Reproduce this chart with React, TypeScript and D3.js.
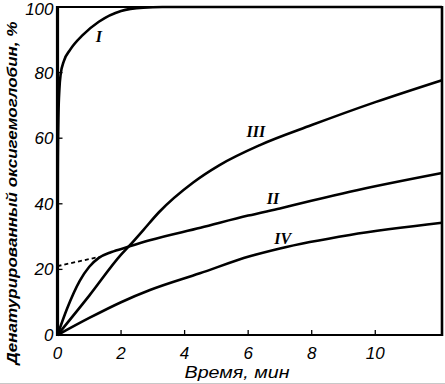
import React from "react";
import * as d3 from "d3";

const xTicks = [0, 2, 4, 6, 8, 10];
const yTicks = [0, 20, 40, 60, 80, 100];

const curveI_t = [0, 0.01, 0.03, 0.06, 0.1, 0.2, 0.4, 0.8, 1.3, 2.0, 2.7, 3.3, 12.1];
const curveI_v = [0, 50, 67, 75, 79.5, 83.5, 87, 91.5, 95.5, 98.8, 99.8, 100, 100];

const curveII_t = [0, 0.3, 0.7, 1.0, 1.3, 1.7, 2.2, 2.9, 4.5, 6.0, 7.0, 9.2, 12.1];
const curveII_v = [0, 8, 16.5, 20.8, 23.5, 25.3, 26.8, 28.9, 32.7, 36.4, 38.6, 43.7, 49.4];

const curveIII_t = [0, 1.0, 2.0, 2.28, 2.7, 3.2, 4.27, 5.1, 6.37, 8.0, 10.0, 12.1];
const curveIII_v = [0, 12, 24.5, 27.4, 32, 37.5, 46.5, 51.8, 57.9, 64, 71, 77.7];

const curveIV_t = [0, 1.0, 2.0, 2.91, 4.48, 6.05, 7.0, 9.2, 12.1];
const curveIV_v = [0, 5.2, 10, 13.7, 18.8, 24.0, 26.4, 30.5, 34.2];

const dashII_t = [0, 1.3];
const dashII_v = [21, 23.8];

const labels = ["I", "II", "III", "IV"];
const labelT = [1.3, 6.78, 6.24, 7.09];
const labelV = [89.4, 40.0, 60.4, 27.7];

const W = 445;
const H = 384;

export default function App() {
  const x = d3.scaleLinear().domain([0, 12.1]).range([57.5, 442]);
  const y = d3.scaleLinear().domain([0, 100]).range([335, 7]);
  const line = d3
    .line<[number, number]>()
    .x((d) => x(d[0]))
    .y((d) => y(d[1]))
    .curve(d3.curveMonotoneX);
  const mk = (t: number[], v: number[]) => t.map((tt, i) => [tt, v[i]] as [number, number]);
  const curves = [
    mk(curveI_t, curveI_v),
    mk(curveII_t, curveII_v),
    mk(curveIII_t, curveIII_v),
    mk(curveIV_t, curveIV_v),
  ];
  const numFont = "'Liberation Sans', 'DejaVu Sans', sans-serif";
  return (
    <svg
      width={W}
      height={H}
      style={{ position: "absolute", left: 0, top: 0, background: "#fff" }}
    >
      <rect x={0} y={0} width={W} height={H} fill="#fff" />
      {curves.map((c, i) => (
        <path key={i} d={line(c) || ""} fill="none" stroke="#000" strokeWidth={2.6} strokeLinejoin="round" />
      ))}
      <path
        d={line(mk(dashII_t, dashII_v)) || ""}
        fill="none"
        stroke="#000"
        strokeWidth={1.8}
        strokeDasharray="4,3"
      />
      {/* frame */}
      <line x1={x(0)} x2={x(12.1)} y1={y(100)} y2={y(100)} stroke="#000" strokeWidth={2} />
      <line x1={x(0)} x2={x(12.1)} y1={y(0)} y2={y(0)} stroke="#000" strokeWidth={2.2} />
      <line x1={x(0)} x2={x(0)} y1={y(100) - 1} y2={y(0) + 1} stroke="#000" strokeWidth={3.2} />
      <line x1={x(12.1)} x2={x(12.1)} y1={y(100) - 1} y2={y(0) + 1} stroke="#000" strokeWidth={2.6} />
      {/* ticks */}
      {yTicks.slice(1, -1).map((v) => (
        <line key={"yt" + v} x1={x(0)} x2={x(0) + 5} y1={y(v)} y2={y(v)} stroke="#000" strokeWidth={1.3} />
      ))}
      {xTicks.slice(1).map((t) => (
        <line key={"xt" + t} x1={x(t)} x2={x(t)} y1={y(0)} y2={y(0) - 5} stroke="#000" strokeWidth={1.3} />
      ))}
      {/* tick labels */}
      {yTicks.map((v) => (
        <text
          key={"yl" + v}
          x={x(0) - 4}
          y={Math.max(y(v) + 6, 15)}
          textAnchor="end"
          fontFamily={numFont}
          fontStyle="italic"
          fontSize={17}
          fill="#000"
        >
          {v}
        </text>
      ))}
      {xTicks.map((t) => (
        <text
          key={"xl" + t}
          x={x(t)}
          y={y(0) + 24}
          textAnchor="middle"
          fontFamily={numFont}
          fontStyle="italic"
          fontSize={17}
          fill="#000"
        >
          {t}
        </text>
      ))}
      {/* curve labels */}
      {labels.map((l, i) => (
        <text
          key={"cl" + l}
          x={x(labelT[i])}
          y={y(labelV[i])}
          textAnchor="middle"
          fontFamily="'Liberation Serif', serif"
          fontStyle="italic"
          fontWeight="bold"
          fontSize={16}
          fill="#000"
        >
          {l}
        </text>
      ))}
      {/* axis titles */}
      <text
        x={237}
        y={378}
        textAnchor="middle"
        fontFamily={numFont}
        fontStyle="italic"
        fontSize={16}
        textLength={105}
        lengthAdjust="spacingAndGlyphs"
        fill="#000"
      >
        Время, мин
      </text>
      <text
        transform={`translate(17,${193}) rotate(-90)`}
        textAnchor="middle"
        fontFamily={numFont}
        fontStyle="italic"
        fontWeight="bold"
        fontSize={15}
        textLength={343}
        lengthAdjust="spacingAndGlyphs"
        fill="#000"
      >
        Денатурированный оксигемоглобин, %
      </text>
      <line x1={0} x2={W} y1={383.5} y2={383.5} stroke="#c8c8c8" strokeWidth={1} />
    </svg>
  );
}
